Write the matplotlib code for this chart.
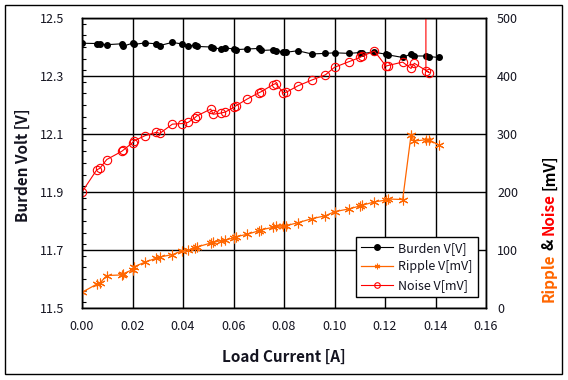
import matplotlib
matplotlib.use("Agg")
import matplotlib.pyplot as plt
from matplotlib.ticker import MultipleLocator, FormatStrFormatter
from matplotlib.patches import Rectangle

plt.rcParams['font.family'] = ['Noto Sans CJK KR', 'DejaVu Sans']

# ---- data ----
current = [0.0000, 0.0058, 0.0071, 0.0098, 0.0157, 0.0163, 0.0200, 0.0206, 0.0249, 0.0295,
           0.0308, 0.0358, 0.0398, 0.0420, 0.0447, 0.0454, 0.0510, 0.0519, 0.0549, 0.0568,
           0.0601, 0.0611, 0.0653, 0.0700, 0.0710, 0.0756, 0.0767, 0.0798, 0.0809, 0.0855,
           0.0910, 0.0964, 0.1000, 0.1059, 0.1101, 0.1109, 0.1158, 0.1204, 0.1211, 0.1270,
           0.1303, 0.1316, 0.1362, 0.1375, 0.1412]
burden_v = [12.413, 12.412, 12.410, 12.408, 12.411, 12.403, 12.413, 12.409, 12.414, 12.411,
            12.405, 12.416, 12.410, 12.404, 12.406, 12.402, 12.400, 12.398, 12.393, 12.397,
            12.393, 12.391, 12.393, 12.395, 12.388, 12.390, 12.386, 12.384, 12.382, 12.387,
            12.376, 12.378, 12.380, 12.378, 12.381, 12.378, 12.382, 12.375, 12.373, 12.364,
            12.376, 12.369, 12.369, 12.367, 12.364]
ripple_mv = [27, 41, 43, 56, 57, 59, 66, 71, 79, 86,
             88, 92, 99, 100, 103, 105, 112, 113, 116, 117,
             121, 123, 127, 133, 135, 139, 141, 141, 142, 147,
             154, 159, 166, 171, 176, 177, 183, 186, 188, 187,
             298, 288, 290, 290, 281]
noise_current = [0.0000, 0.0058, 0.0071, 0.0098, 0.0157, 0.0163, 0.0200, 0.0206, 0.0249, 0.0295,
                 0.0308, 0.0358, 0.0398, 0.0420, 0.0447, 0.0454, 0.0510, 0.0519, 0.0549, 0.0568,
                 0.0601, 0.0611, 0.0653, 0.0700, 0.0710, 0.0756, 0.0767, 0.0798, 0.0809, 0.0855,
                 0.0910, 0.0964, 0.1000, 0.1059, 0.1101, 0.1109, 0.1158, 0.1204, 0.1211, 0.1270,
                 0.1303, 0.1316, 0.1375, 0.1362, 0.1362]
noise_mv = [200, 238, 241, 256, 270, 272, 285, 288, 297, 303,
            301, 317, 318, 320, 328, 331, 343, 334, 336, 338,
            346, 349, 360, 371, 373, 385, 387, 371, 372, 383,
            393, 402, 415, 425, 432, 434, 443, 417, 418, 424,
            413, 422, 406, 409, 1000]

x_ticks = [0.00, 0.02, 0.04, 0.06, 0.08, 0.10, 0.12, 0.14, 0.16]
left_ticks = [11.5, 11.7, 11.9, 12.1, 12.3, 12.5]
right_ticks = [0, 100, 200, 300, 400, 500]

ORANGE = '#FF6600'
RED = '#FF0000'
TXT = '#141420'

W, H = 568, 380
fig = plt.figure(figsize=(W / 100, H / 100), dpi=100)
fig.patch.set_facecolor('white')

# outer border
fig.patches.append(Rectangle((5 / W, 1 - 374 / H), 557 / W, 369 / H, transform=fig.transFigure,
                             fill=False, edgecolor='black', linewidth=1.0))

ax = fig.add_axes([82 / W, 1 - 308 / H, 404 / W, 290 / H])
ax2 = ax.twinx()

ax.set_xlim(0, 0.16)
ax.set_ylim(11.5, 12.5)
ax2.set_ylim(0, 500)

ax.set_xticks(x_ticks)
ax.xaxis.set_major_formatter(FormatStrFormatter('%.2f'))
ax.set_yticks(left_ticks)
ax.yaxis.set_major_formatter(FormatStrFormatter('%.1f'))
ax.yaxis.set_minor_locator(MultipleLocator(0.04))
ax2.set_yticks(right_ticks)

ax.grid(True, which='major', color='black', linewidth=1.0)
ax.set_axisbelow(True)

ax.tick_params(axis='x', which='major', length=0, pad=9, labelsize=9, labelcolor=TXT)
ax.tick_params(axis='y', which='major', direction='in', length=0, pad=13, labelsize=9, labelcolor=TXT)
ax.tick_params(axis='y', which='minor', direction='in', length=3, width=0.8, left=True)
ax2.tick_params(axis='y', which='major', length=0, pad=8, labelsize=9, labelcolor=TXT)

for a in (ax, ax2):
    for s in a.spines.values():
        s.set_color('black')
        s.set_linewidth(1.0)

l1, = ax.plot(current, burden_v, color='black', linewidth=0.8, marker='o', markersize=4,
              markerfacecolor='black', markeredgecolor='black', label='Burden V[V]')
l2, = ax2.plot(current, ripple_mv, color=ORANGE, linewidth=0.9, marker=(6, 2, 0), markersize=7,
               markeredgewidth=0.8, markeredgecolor=ORANGE, label='Ripple V[mV]')
l3, = ax2.plot(noise_current, noise_mv, color=RED, linewidth=0.8, marker='o', markersize=6,
               markerfacecolor='none', markeredgecolor=RED, markeredgewidth=0.8, label='Noise V[mV]')

leg = ax2.legend(handles=[l1, l2, l3], loc='lower right', bbox_to_anchor=(0.98, 0.038),
                 fancybox=False, framealpha=1, edgecolor='black', fontsize=9,
                 handlelength=2.6, handletextpad=0.4, borderpad=0.4, labelspacing=0.45,
                 borderaxespad=0)
leg.get_frame().set_linewidth(1.0)
for t in leg.get_texts():
    t.set_color(TXT)
for h in leg.legend_handles:
    h.set_markersize(4)

fig.text(23 / W, 1 - 165 / H, 'Burden Volt [V]', rotation=90, ha='center', va='center',
         fontsize=11, fontweight='bold', color=TXT)
fig.text(284 / W, 1 - 357 / H, 'Load Current [A]', ha='center', va='center',
         fontsize=11, fontweight='bold', color=TXT)

# multi-coloured right label, stacked bottom-to-top
fig.canvas.draw()
r = fig.canvas.get_renderer()
parts = [('Ripple', ORANGE), ('&', 'black'), ('Noise', RED), ('[mV]', 'black')]
ypix = 302.0
xbase = 554 / W
for s, c in parts:
    t = fig.text(xbase, 1 - ypix / H, s, rotation=90, rotation_mode='anchor', ha='left',
                 va='baseline', fontsize=11, fontweight='bold', color=c)
    bb = t.get_window_extent(r)
    ypix -= bb.height + 3.5

fig.savefig('out.png', dpi=100)
